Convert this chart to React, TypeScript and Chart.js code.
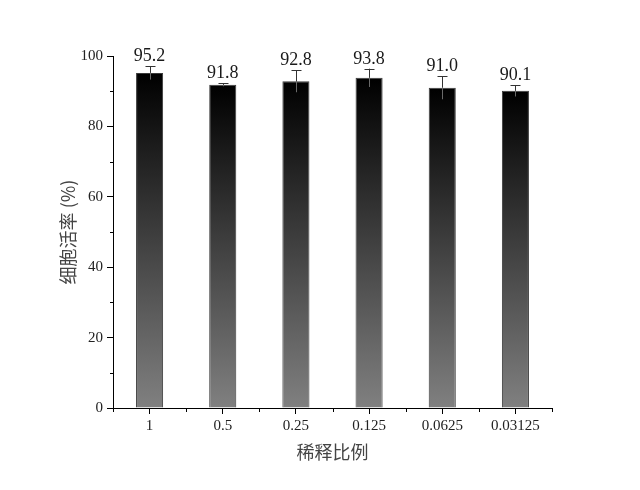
import React, { useEffect, useRef } from "react";
import { Chart, registerables } from "chart.js";

Chart.register(...registerables);

const categories = ["1", "0.5", "0.25", "0.125", "0.0625", "0.03125"];
const viability = [95.2, 91.8, 92.8, 93.8, 91.0, 90.1];
const errors = [1.9, 0.4, 3.1, 2.6, 3.3, 1.6];
const valueLabels = ["95.2", "91.8", "92.8", "93.8", "91.0", "90.1"];
const yTitle = "细胞活率 (%)";
const xTitle = "稀释比例";

const SERIF = "'Times New Roman', 'Liberation Serif', 'DejaVu Serif', serif";
const CJK = "'Noto Sans CJK SC', 'Noto Sans', sans-serif";

const extrasPlugin = {
  id: "extras",
  afterDatasetsDraw(chart: any) {
    const { ctx, chartArea } = chart;
    const y = chart.scales.y;
    const x = chart.scales.x;
    const meta = chart.getDatasetMeta(0);
    ctx.save();
    // error bars and value labels
    meta.data.forEach((bar: any, i: number) => {
      const v = viability[i];
      const e = errors[i];
      const yTop = y.getPixelForValue(v + e);
      const yBar = y.getPixelForValue(v);
      const yLow = y.getPixelForValue(v - e);
      const cx = Math.round(bar.x) + 0.5;
      ctx.lineWidth = 1;
      ctx.strokeStyle = "#6a6a6a";
      ctx.beginPath();
      ctx.moveTo(cx, yBar);
      ctx.lineTo(cx, yLow);
      ctx.stroke();
      ctx.strokeStyle = "#333";
      ctx.beginPath();
      ctx.moveTo(cx, yBar);
      ctx.lineTo(cx, yTop);
      ctx.moveTo(cx - 5, Math.round(yTop) + 0.5);
      ctx.lineTo(cx + 5, Math.round(yTop) + 0.5);
      ctx.stroke();
      ctx.fillStyle = "#1a1a1a";
      ctx.font = `18px ${SERIF}`;
      ctx.textAlign = "center";
      ctx.textBaseline = "alphabetic";
      ctx.fillText(valueLabels[i], bar.x, yTop - 5);
    });
    // minor ticks
    ctx.strokeStyle = "#000";
    ctx.lineWidth = 1;
    ctx.beginPath();
    for (let v = 10; v < 100; v += 20) {
      const py = Math.round(y.getPixelForValue(v)) + 0.5;
      ctx.moveTo(chartArea.left, py);
      ctx.lineTo(chartArea.left - 3, py);
    }
    for (let i = 0; i <= categories.length; i++) {
      const px = Math.round(x.getPixelForValue(i - 0.5)) + 0.5;
      ctx.moveTo(px, chartArea.bottom);
      ctx.lineTo(px, chartArea.bottom + 4);
    }
    ctx.stroke();
    ctx.restore();
  },
};

export default function App() {
  const canvasRef = useRef<HTMLCanvasElement | null>(null);

  useEffect(() => {
    document.body.style.margin = "0";
    const canvas = canvasRef.current;
    if (!canvas) return;
    const chart = new Chart(canvas, {
      type: "bar",
      data: {
        labels: categories,
        datasets: [
          {
            data: viability,
            backgroundColor: (c: any) => {
              const ch = c.chart;
              const area = ch.chartArea;
              if (!area || c.raw == null) return "#444";
              const top = ch.scales.y.getPixelForValue(c.raw);
              const g = ch.ctx.createLinearGradient(0, top, 0, area.bottom);
              g.addColorStop(0, "#000000");
              g.addColorStop(1, "#808080");
              return g;
            },
            borderColor: "#3a3a3a",
            borderWidth: 1,
            barPercentage: 0.37,
            categoryPercentage: 1,
          },
        ],
      },
      options: {
        animation: false,
        responsive: false,
        maintainAspectRatio: false,
        layout: { padding: { top: 56, right: 88, left: 0, bottom: 0 } },
        plugins: {
          legend: { display: false },
          tooltip: { enabled: false },
        },
        scales: {
          x: {
            afterFit: (s: any) => {
              s.height = 82;
            },
            grid: {
              display: true,
              drawOnChartArea: false,
              offset: false,
              tickLength: 6,
              color: "#000",
              tickColor: "#000",
            },
            border: { display: true, color: "#000", width: 1 },
            ticks: {
              color: "#222",
              font: { family: SERIF, size: 15 },
              padding: 3,
              maxRotation: 0,
            },
            title: {
              display: true,
              text: xTitle,
              color: "#444",
              font: { family: CJK, size: 18 },
              padding: { top: 0, bottom: 27 },
            },
          },
          y: {
            min: 0,
            max: 100,
            afterFit: (s: any) => {
              s.width = 113;
            },
            grid: {
              display: true,
              drawOnChartArea: false,
              tickLength: 6,
              color: "#000",
              tickColor: "#000",
            },
            border: { display: true, color: "#000", width: 1 },
            ticks: {
              stepSize: 20,
              color: "#222",
              font: { family: SERIF, size: 15 },
              padding: 4,
            },
            title: {
              display: true,
              text: yTitle,
              color: "#444",
              font: { family: CJK, size: 18 },
              padding: { top: 57, bottom: 0 },
            },
          },
        },
      },
      plugins: [extrasPlugin],
    });
    return () => chart.destroy();
  }, []);

  return (
    <div style={{ width: 640, height: 490, background: "#fff" }}>
      <canvas ref={canvasRef} width={640} height={490} />
    </div>
  );
}
